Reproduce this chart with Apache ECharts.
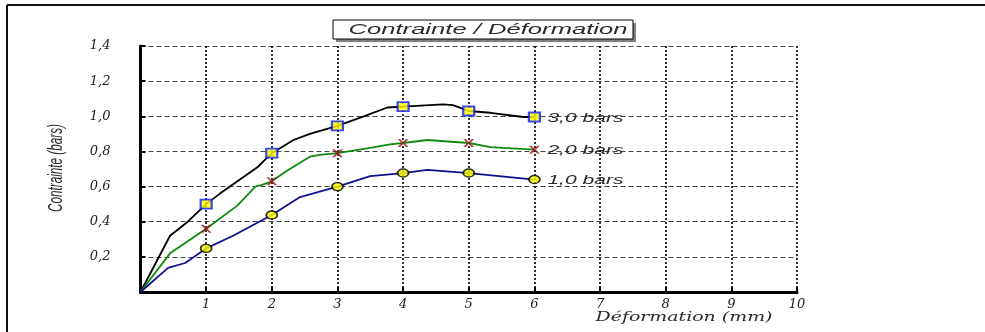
<!DOCTYPE html>
<html>
<head>
<meta charset="utf-8">
<title>Contrainte / Déformation</title>
<script src="https://cdn.jsdelivr.net/npm/echarts@6/dist/echarts.min.js"></script>
<style>
  html, body { margin: 0; padding: 0; background: #fff; }
  #chart { width: 985px; height: 332px; }
</style>
</head>
<body>
<div id="chart"></div>
<script>
// Courbes contrainte / déformation pour trois pressions de confinement
const seriesNames = ['3,0 bars', '2,0 bars', '1,0 bars'];

const defX_3 = [0, 0.45, 0.72, 1, 1.21, 1.78, 2, 2.33, 2.58, 3, 3.4, 3.76, 4, 4.61, 4.76, 5, 5.33, 5.83, 6];
const contr_3 = [0, 0.32, 0.40, 0.50, 0.56, 0.71, 0.79, 0.865, 0.90, 0.945, 1.00, 1.05, 1.055, 1.068, 1.064, 1.03, 1.02, 0.996, 0.996];

const defX_2 = [0, 0.45, 1, 1.47, 1.75, 1.85, 2, 2.23, 2.58, 2.73, 3, 3.5, 3.8, 4, 4.37, 5, 5.33, 6];
const contr_2 = [0, 0.22, 0.36, 0.49, 0.60, 0.61, 0.63, 0.69, 0.77, 0.78, 0.79, 0.82, 0.84, 0.848, 0.865, 0.848, 0.825, 0.81];

const defX_1 = [0, 0.42, 0.68, 1, 1.41, 2, 2.43, 3, 3.5, 4, 4.37, 5, 6];
const contr_1 = [0, 0.137, 0.165, 0.248, 0.32, 0.438, 0.54, 0.60, 0.66, 0.677, 0.695, 0.677, 0.64];

const xTickValues = [1, 2, 3, 4, 5, 6, 7, 8, 9, 10];
const yTickValues = [0.2, 0.4, 0.6, 0.8, 1.0, 1.2, 1.4];

const titleText = 'Contrainte / Déformation';
const xName = 'Déformation (mm)';
const yName = 'Contrainte (bars)';

function pairs(xs, ys) { return xs.map((x, i) => [x, ys[i]]); }
// points mesurés : valeurs entières de déformation
function measured(xs, ys) { return pairs(xs, ys).filter(p => p[0] > 0 && Number.isInteger(p[0])); }

const measureCtx = document.createElement('canvas').getContext('2d');
function textWidth(text, font) { measureCtx.font = font; return measureCtx.measureText(text).width; }

const curves = [
  { x: defX_3, y: contr_3, color: '#000000' },
  { x: defX_2, y: contr_2, color: '#118a11' },
  { x: defX_1, y: contr_1, color: '#10108c' }
];

const markerStyles = [
  { symbol: 'rect', symbolSize: [11, 9], itemStyle: { color: '#ffff00', borderColor: '#0a1aff', borderWidth: 2 } },
  { symbol: 'path://M0,0 L2.4,0 L5,2.9 L7.6,0 L10,0 L6.3,4 L10,8 L7.6,8 L5,5.1 L2.4,8 L0,8 L3.7,4 Z', symbolSize: [11, 8], itemStyle: { color: '#a01818' } },
  { symbol: 'circle', symbolSize: [11, 8], itemStyle: { color: '#ffff00', borderColor: '#000000', borderWidth: 1.6 } }
];

const series = [];
curves.forEach((c, i) => {
  series.push({
    name: seriesNames[i],
    type: 'line',
    data: pairs(c.x, c.y),
    symbol: 'none',
    lineStyle: { color: c.color, width: 1.8 },
    z: 3,
    animation: false
  });
});
curves.forEach((c, i) => {
  series.push(Object.assign({
    name: seriesNames[i],
    type: 'scatter',
    data: measured(c.x, c.y),
    z: 4,
    animation: false
  }, markerStyles[i]));
});

const chart = echarts.init(document.getElementById('chart'), null, { renderer: 'canvas' });

const option = {
  backgroundColor: '#ffffff',
  animation: false,
  grid: { left: 140.5, right: 188, top: 46, bottom: 40, containLabel: false },
  xAxis: {
    type: 'value', min: 0, max: 10, interval: 1,
    axisLine: { show: true, onZero: false, lineStyle: { color: '#000', width: 3 } },
    axisTick: { show: true, inside: true, length: 5, lineStyle: { color: '#000', width: 2 } },
    axisLabel: {
      margin: 6,
      fontFamily: 'DejaVu Serif', fontStyle: 'italic', fontSize: 13, color: '#222',
      formatter: v => xTickValues.includes(v) ? String(v) : ''
    },
    splitLine: { show: true, lineStyle: { color: '#000', width: 1.6, type: [2, 2] } }
  },
  yAxis: {
    type: 'value', min: 0, max: 1.4, interval: 0.2,
    axisLine: { show: true, onZero: false, lineStyle: { color: '#000', width: 3 } },
    axisTick: { show: true, inside: true, length: 5, lineStyle: { color: '#000', width: 2 } },
    axisLabel: {
      margin: 30,
      fontFamily: 'DejaVu Serif', fontStyle: 'italic', fontSize: 13, color: '#222',
      formatter: v => yTickValues.some(t => Math.abs(t - v) < 1e-9) ? v.toFixed(1).replace('.', ',') : ''
    },
    splitLine: { show: true, lineStyle: { color: '#444', width: 1, type: [5, 3] } }
  },
  series: series
};

chart.setOption(option);

// habillage : cadre, titre encadré, noms des axes, étiquettes de fin de courbe
function stretchedText(text, font, cx, cy, width, extra) {
  const sx = width / textWidth(text, font);
  return Object.assign({
    type: 'text', x: cx, y: cy, scaleX: sx, z: 10,
    style: { text: text, font: font, fill: '#2a2a2a', align: 'center', verticalAlign: 'middle' }
  }, extra || {});
}

const graphics = [
  { type: 'line', shape: { x1: 7, y1: 5, x2: 985, y2: 5 }, style: { stroke: '#111', lineWidth: 2 } },
  { type: 'line', shape: { x1: 7, y1: 5, x2: 7, y2: 332 }, style: { stroke: '#111', lineWidth: 2 } },
  { type: 'rect', shape: { x: 336, y: 23, width: 300, height: 19 }, style: { fill: '#808080' } },
  { type: 'rect', shape: { x: 333, y: 20, width: 300, height: 19 }, style: { fill: '#ffffff', stroke: '#000', lineWidth: 1 } },
  stretchedText(titleText, 'italic 15px "Liberation Sans"', 488, 30, 279),
  stretchedText(xName, 'italic 13px "DejaVu Serif"', 684, 318, 177),
  stretchedText(yName, 'italic 21px "Liberation Sans"', 56, 168, 88, { rotation: Math.PI / 2 })
];

curves.forEach((c, i) => {
  const last = c.x.length - 1;
  const p = chart.convertToPixel({ gridIndex: 0 }, [c.x[last], c.y[last]]);
  const font = 'italic 13px "Liberation Sans"';
  const sx = 76 / textWidth(seriesNames[i], font);
  graphics.push({
    type: 'text', x: p[0] + 13, y: p[1] + 1, scaleX: sx, z: 10,
    style: { text: seriesNames[i], font: font, fill: '#2a2a2a', align: 'left', verticalAlign: 'middle' }
  });
});

chart.setOption({ graphic: graphics });
</script>
</body>
</html>
